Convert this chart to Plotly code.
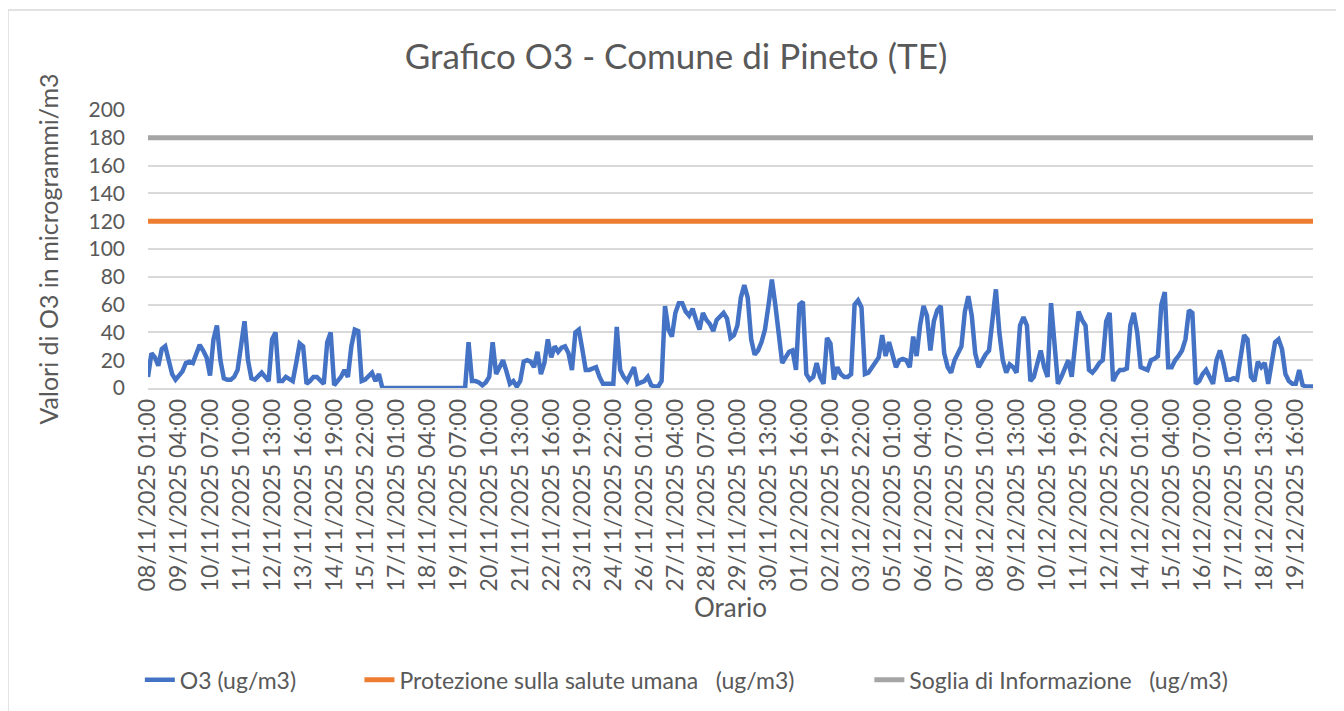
import pandas as pd
import plotly.graph_objects as go

# Orario (3-hourly readings)
orario = pd.date_range('2025-11-08 01:00', periods=339, freq='3h').strftime('%d/%m/%Y %H:%M').tolist()

# O3 values (ug/m3)
o3 = [
    8, 25, 22, 16, 28, 30, 20, 10, 6, 9, 12, 18, 19, 18, 25, 31, 27, 22, 9, 35,
    45, 20, 7, 6, 6, 8, 13, 30, 48, 20, 7, 6, 8, 11, 8, 5, 35, 40, 5, 5,
    8, 6, 5, 18, 32, 30, 3, 5, 8, 8, 5, 3, 33, 40, 2, 5, 8, 13, 8, 30,
    42, 41, 5, 6, 8, 11, 5, 10, 0, 0, 0, 0, 0, 0, 0, 0, 0, 0, 0, 0,
    0, 0, 0, 0, 0, 0, 0, 0, 0, 0, 0, 0, 0, 33, 5, 5, 4, 2, 4, 8,
    33, 10, 15, 20, 12, 3, 5, 1, 5, 19, 20, 19, 15, 26, 10, 18, 35, 22, 30, 26,
    29, 30, 25, 13, 40, 42, 28, 13, 13, 14, 15, 8, 3, 3, 3, 3, 44, 13, 8, 5,
    10, 15, 3, 4, 5, 8, 2, 1, 1, 5, 59, 42, 37, 54, 61, 61, 55, 52, 57, 49,
    42, 54, 49, 46, 41, 49, 51, 54, 50, 36, 38, 45, 65, 74, 65, 35, 24, 27, 33, 42,
    59, 78, 60, 40, 18, 22, 26, 27, 13, 60, 62, 10, 6, 8, 18, 8, 3, 36, 32, 6,
    15, 10, 8, 8, 10, 60, 63, 58, 10, 11, 15, 19, 22, 38, 23, 33, 25, 15, 20, 21,
    20, 15, 37, 23, 45, 59, 52, 27, 48, 56, 59, 25, 15, 11, 20, 25, 30, 55, 66, 52,
    25, 15, 20, 24, 27, 50, 71, 40, 20, 11, 17, 15, 11, 45, 51, 45, 5, 8, 18, 27,
    15, 8, 61, 30, 3, 8, 15, 20, 8, 35, 55, 49, 45, 13, 11, 14, 18, 20, 48, 54,
    5, 10, 13, 13, 14, 45, 54, 40, 15, 14, 13, 20, 21, 23, 60, 69, 15, 15, 20, 23,
    27, 35, 56, 54, 3, 5, 10, 13, 7, 3, 20, 27, 18, 6, 6, 7, 6, 20, 38, 35,
    8, 5, 19, 15, 18, 3, 18, 33, 35, 28, 10, 5, 3, 3, 13, 2, 1, 1, 1,
]

# threshold values
protezione = [120] * len(orario)
soglia = [180] * len(orario)

tick_labels = orario[::9]

font_name = 'Lato'
grey_text = '#595959'

fig = go.Figure()
fig.add_trace(go.Scatter(x=orario, y=o3, mode='lines', name='O3 (ug/m3)',
                         line=dict(color='#4472C4', width=4.5), legend='legend'))
fig.add_trace(go.Scatter(x=orario, y=protezione, mode='lines',
                         name='Protezione sulla salute umana\u00a0\u00a0\u00a0(ug/m3)',
                         line=dict(color='#ED7D31', width=5), legend='legend2'))
fig.add_trace(go.Scatter(x=orario, y=soglia, mode='lines',
                         name='Soglia di Informazione\u00a0\u00a0\u00a0(ug/m3)',
                         line=dict(color='#A5A5A5', width=5), legend='legend3'))

legend_style = dict(orientation='h', xanchor='left', y=-1.05, yanchor='middle',
                    font=dict(size=23, color=grey_text), bgcolor='rgba(0,0,0,0)')

# page body adds an 8px offset, so the figure is a bit smaller than the window
fig.update_layout(
    width=1336,
    height=703,
    margin=dict(l=140, r=31, t=102, b=323, autoexpand=False),
    paper_bgcolor='white',
    plot_bgcolor='white',
    font=dict(family=font_name, color=grey_text, size=20),
    title=dict(text='Grafico O3 - Comune di Pineto (TE)', x=0.5, xanchor='center',
               yref='container', y=0.93, yanchor='middle', font=dict(size=35, color=grey_text)),
    showlegend=True,
    legend=dict(x=-0.007, **legend_style),
    legend2=dict(x=0.1815, **legend_style),
    legend3=dict(x=0.6192, **legend_style),
    xaxis=dict(type='category', tickmode='array', tickvals=tick_labels, ticktext=tick_labels,
               tickangle=-90, tickfont=dict(size=23), showgrid=False,
               showline=True, linecolor='#D9D9D9', linewidth=1.5, ticks='',
               title=dict(text='Orario', font=dict(size=26), standoff=4)),
    yaxis=dict(range=[0, 200], dtick=20, tickfont=dict(size=21), showgrid=True,
               gridcolor='#D9D9D9', gridwidth=1.5, zeroline=False, ticks='',
               ticklabelstandoff=22,
               title=dict(text='Valori di O3 in microgrammi/m3', font=dict(size=25), standoff=22)),
)

# chart area border (Excel style)
for x0, y0, x1, y1 in [(-0.1202, 1.3597, 1.0249, 1.3597), (-0.1202, 1.3597, -0.1202, -1.2),
                       (1.0249, 1.3597, 1.0249, -1.2)]:
    fig.add_shape(type='line', xref='paper', yref='paper', x0=x0, y0=y0, x1=x1, y1=y1,
                  line=dict(color='#D9D9D9', width=1.5))

fig.write_html('out.html')
